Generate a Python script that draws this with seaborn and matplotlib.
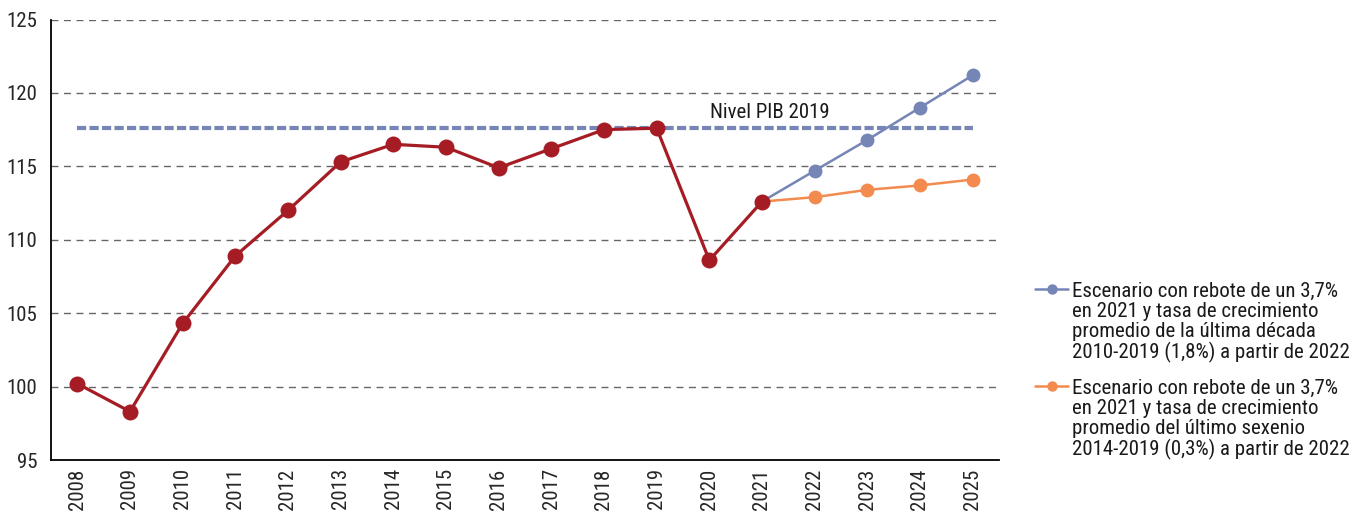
import matplotlib
matplotlib.use("Agg")
import matplotlib.pyplot as plt
import seaborn as sns
import pandas as pd
import numpy as np

# Index of GDP level (2008 = 100)
years = [2008, 2009, 2010, 2011, 2012, 2013, 2014, 2015, 2016,
         2017, 2018, 2019, 2020, 2021, 2022, 2023, 2024, 2025]
hist_years = years[:14]
hist_values = [100.2, 98.3, 104.3, 108.9, 112.0, 115.3, 116.5, 116.3,
               114.9, 116.2, 117.5, 117.6, 108.6, 112.6]
proj_years = [2021, 2022, 2023, 2024, 2025]
decade_values = [112.6, 114.7, 116.8, 119.0, 121.2]
sexenio_values = [112.6, 112.9, 113.4, 113.7, 114.1]
level_2019 = 117.6
level_label = "Nivel PIB 2019"
label_decade = ("Escenario con rebote de un 3,7%\nen 2021 y tasa de crecimiento\n"
                "promedio de la última década\n2010-2019 (1,8%) a partir de 2022")
label_sexenio = ("Escenario con rebote de un 3,7%\nen 2021 y tasa de crecimiento\n"
                 "promedio del último sexenio\n2014-2019 (0,3%) a partir de 2022")
y_ticks = [95, 100, 105, 110, 115, 120, 125]

RED = "#A51C24"
BLUE = "#7585B5"
ORANGE = "#F38B4F"

sns.set_style("white")
plt.rcParams["font.family"] = ["Roboto Condensed", "DejaVu Sans"]
plt.rcParams["font.weight"] = 400
plt.rcParams["text.color"] = "#1a1a1a"

pos = {y: i for i, y in enumerate(years)}
hist = pd.DataFrame({"x": [pos[y] for y in hist_years], "v": hist_values})
dec = pd.DataFrame({"x": [pos[y] for y in proj_years], "v": decade_values})
sex = pd.DataFrame({"x": [pos[y] for y in proj_years], "v": sexenio_values})

fig = plt.figure(figsize=(13.58, 5.16), dpi=100)
ax = fig.add_axes([51 / 1358, 1 - 460 / 516, (999 - 51) / 1358, (460 - 19.5) / 516])

# 2019 reference level
ax.plot([0, len(years) - 1], [level_2019, level_2019], color=BLUE, lw=3.0,
        dashes=(2.2, 0.8), dash_capstyle="butt", zorder=2)
ax.text(pos[2021] + 0.15, level_2019 + 0.45, level_label, ha="center", va="bottom",
        fontsize=15)

sns.lineplot(data=dec, x="x", y="v", ax=ax, color=BLUE, lw=1.8, marker="o",
             markersize=10, markeredgewidth=0, label=label_decade, zorder=3)
sns.lineplot(data=sex, x="x", y="v", ax=ax, color=ORANGE, lw=1.8, marker="o",
             markersize=10, markeredgewidth=0, label=label_sexenio, zorder=3)
sns.lineplot(data=hist, x="x", y="v", ax=ax, color=RED, lw=2.3, marker="o",
             markersize=11.5, markeredgewidth=0, legend=False, zorder=4)

ax.set_xlim(-0.5, len(years) - 0.5)
ax.set_ylim(95, 125)
ax.set_yticks(y_ticks)
ax.set_yticklabels([str(t) for t in y_ticks], fontsize=15)
ax.set_xticks(range(len(years)))
ax.set_xticklabels([str(y) for y in years], rotation=90, fontsize=15)
ax.set_xticks(np.arange(-0.5, len(years)), minor=True)
ax.tick_params(axis="x", which="major", length=0, pad=6)
ax.tick_params(axis="x", which="minor", length=7, width=1.2, color="black", direction="out")
ax.tick_params(axis="y", length=7, width=1.2, color="black", direction="out", pad=3)
ax.set_xlabel("")
ax.set_ylabel("")

for t in y_ticks[1:]:
    ax.axhline(t, color="#666666", lw=1.0, dashes=(5, 4), zorder=1)

for s in ["top", "right"]:
    ax.spines[s].set_visible(False)
for s in ["left", "bottom"]:
    ax.spines[s].set_color("black")
    ax.spines[s].set_linewidth(1.3)

ax.get_legend().remove()
handles, labels = ax.get_legend_handles_labels()
leg = fig.legend(handles, labels, loc="upper left",
                 bbox_to_anchor=(1035 / 1358, 1 - 282 / 516),
                 frameon=False, fontsize=15, handlelength=1.6, handletextpad=0.2,
                 labelspacing=0.75, borderpad=0, borderaxespad=0, markerscale=0.75)
for t in leg.get_texts():
    t.set_linespacing(1.07)
# keep each legend key level with the first line of its label
for col in leg._legend_handle_box.get_children():
    for item in col.get_children():
        item.align = "top"

fig.savefig("out.png", dpi=100)
